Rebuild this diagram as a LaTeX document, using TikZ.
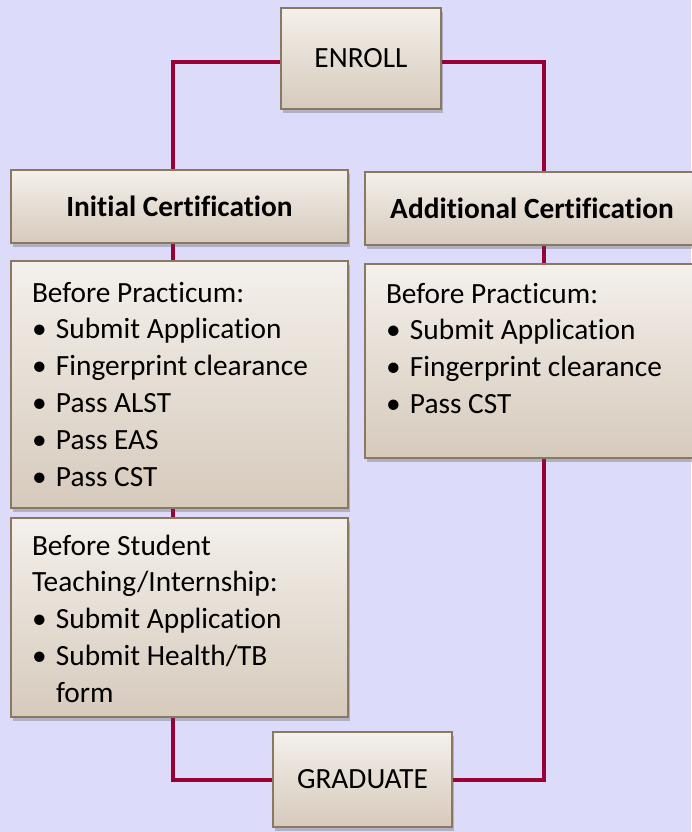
\documentclass[tikz,border=0pt]{standalone}
\usepackage{fontspec}
\setmainfont{Carlito}[Ligatures=NoCommon]
\usetikzlibrary{shadows,backgrounds}
\definecolor{sky}{RGB}{220,220,250}
\definecolor{cardtop}{RGB}{244,240,235}
\definecolor{cardbot}{RGB}{214,202,188}
\definecolor{cardline}{RGB}{139,120,96}
\definecolor{wine}{RGB}{153,0,51}
\newlength{\px}\setlength{\px}{0.02cm}
\newcommand{\tasklist}[4]{\parbox[c][#2\px][t]{#1\px}{\raggedright\setlength{\leftskip}{21\px}\rule{0pt}{#3\px}#4}}
\newcommand{\task}[1]{\par\hangindent=24\px\hangafter=1\makebox[24\px][l]{\textbullet}#1}
\begin{document}
\begin{tikzpicture}[x=0.02cm, y=-0.02cm,
	card/.style={draw=cardline, line width=1.5\px, top color=cardtop, bottom color=cardbot, inner sep=0pt,
		drop shadow={shadow xshift=1pt, shadow yshift=-2pt, opacity=0.3, fill=black!70},
		font=\fontsize{16.7pt}{21pt}\selectfont},
	link/.style={draw=wine, line width=4\px}]
	\useasboundingbox (0,0) rectangle (691,832);
	\node (enroll)  at (361,   58.5)	[card, minimum width=160\px, minimum height=101\px]	{ENROLL};
	\node (init)    at (179.5, 206.5)	[card, minimum width=337\px, minimum height=73\px]	{\textbf{Initial Certification}};
	\node (addl)    at (532,   208.5)	[card, minimum width=334\px, minimum height=73\px]	{\textbf{Additional Certification}};
	\node (initpre) at (179.5, 384.5)	[card]	{\tasklist{337}{247}{41}{Before Practicum:\task{Submit Application}\task{Fingerprint clearance}\task{Pass ALST}\task{Pass EAS}\task{Pass CST}}};
	\node (addpre)  at (532,   361)	[card]	{\tasklist{334}{194}{39}{Before Practicum:\task{Submit Application}\task{Fingerprint clearance}\task{Pass CST}}};
	\node (stud)    at (179.5, 617.5)	[card]	{\tasklist{337}{199}{37}{Before Student\\Teaching/Internship:\task{Submit Application}\task{Submit Health/TB\newline form}}};
	\node (grad)    at (362.5, 779.5)	[card, minimum width=179\px, minimum height=95\px]	{GRADUATE};
	\begin{scope}[on background layer]
		\fill[sky] (0,0) rectangle (691,832);
		\draw[link] ([yshift=-3.5\px]enroll.west) -| ([xshift=-6.5\px]init.north) -- ([xshift=-6.5\px]stud.south) |- (grad.west);
		\draw[link] ([yshift=-3.5\px]enroll.east) -| ([xshift=12\px]addl.north) -- ([xshift=12\px]addpre.south) |- (grad.east);
	\end{scope}
\end{tikzpicture}
\end{document}
